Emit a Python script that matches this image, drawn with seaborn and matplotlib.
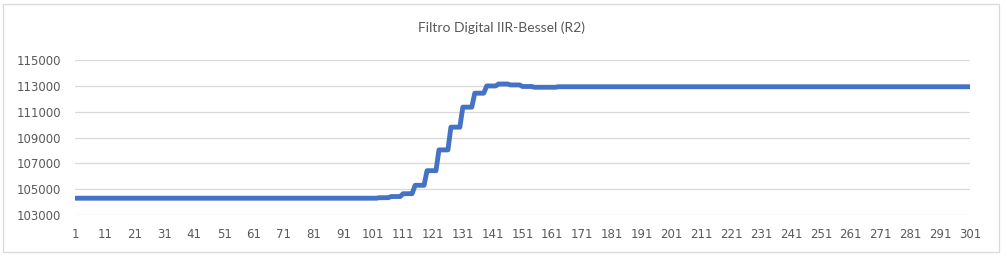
import numpy as np
import pandas as pd
import matplotlib
matplotlib.use("Agg")
import matplotlib.pyplot as plt
from matplotlib.patches import Rectangle
import seaborn as sns

# Data (run-length encoded held values of the filter output)
levels = [104300, 104340, 104430, 104650, 105300, 106430, 108040, 109800,
          111350, 112430, 112990, 113140, 113070, 112950, 112890, 112930]
run_lengths = [102, 4, 4, 4, 4, 4, 4, 4, 4, 4, 4, 4, 4, 4, 8, 139]
x_ticks = list(range(1, 302, 10))
y_ticks = [103000, 105000, 107000, 109000, 111000, 113000, 115000]
title = "Filtro Digital IIR-Bessel (R2)"

values = np.repeat(levels, run_lengths)
samples = np.arange(1, len(values) + 1)
df = pd.DataFrame({"n": samples, "R2": values})

sns.set_style("white")
plt.rcParams["font.family"] = ["DejaVu Sans"]

W, H = 1006, 257
fig = plt.figure(figsize=(W / 100, H / 100), dpi=100)
ax = fig.add_axes([75 / W, 42 / H, (970 - 75) / W, (215 - 60) / H])

sns.lineplot(data=df, x="n", y="R2", ax=ax, color="#4472C4", linewidth=3.5,
             solid_joinstyle="round", solid_capstyle="butt", zorder=3)

ax.set_xlim(1, 301)
ax.set_ylim(103000, 115000)
ax.set_xticks(x_ticks)
ax.set_xticklabels([str(t) for t in x_ticks])
ax.set_yticks(y_ticks)
ax.set_yticklabels([str(t) for t in y_ticks])
ax.tick_params(axis="both", length=0, labelsize=8.5, labelcolor="#595959")
ax.tick_params(axis="y", pad=10)
ax.tick_params(axis="x", pad=9)
ax.set_xlabel("")
ax.set_ylabel("")
ax.grid(axis="y", color="#D9D9D9", linewidth=0.9)
ax.grid(axis="x", visible=False)
for s in ax.spines.values():
    s.set_visible(False)

fig.text(502 / W, 1 - 28 / H, title, ha="center", va="center",
         fontsize=10, color="#595959", family=["Lato", "DejaVu Sans"])

fig.patches.append(Rectangle((3 / W, (H - 252) / H), (999 - 3) / W, (252 - 4) / H,
                             transform=fig.transFigure, fill=False,
                             edgecolor="#D9D9D9", linewidth=0.9))

fig.savefig("out.png", dpi=100)
